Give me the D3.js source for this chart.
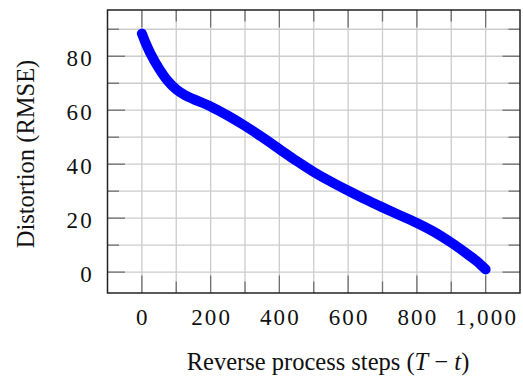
<!DOCTYPE html>
<html>
<head>
<meta charset="utf-8">
<script src="https://cdn.jsdelivr.net/npm/d3@7"></script>
<style>
  html, body { margin: 0; padding: 0; background: #fff; }
  svg { display: block; }
</style>
</head>
<body>
<svg id="chart" width="523" height="379"></svg>
<script>
// ---- data ----
const steps = [0, 10, 25, 50, 75, 100, 125, 150, 200, 250, 300, 350, 400, 450, 500, 550, 600, 650, 700, 750, 800, 850, 900, 950, 975, 1000];
const rmse  = [88.4, 85.2, 81.0, 75.4, 70.9, 67.7, 65.6, 64.1, 61.4, 58.0, 54.2, 50.0, 45.6, 41.2, 37.1, 33.5, 30.2, 27.0, 24.0, 21.1, 18.2, 14.9, 10.9, 6.4, 4.0, 1.0];
const xMajorTicks = [0, 200, 400, 600, 800, 1000];
const xMinorTicks = [100, 300, 500, 700, 900];
const yMajorTicks = [0, 20, 40, 60, 80];
const yMinorTicks = [10, 30, 50, 70, 90];
const xLabel = "Reverse process steps (";
const yLabel = "Distortion (RMSE)";

(function () {
// ---- layout ----
const pL = 107.5, pR = 520, pT = 10, pB = 293;
const svg = d3.select("#chart");

function enlarge(ext) { const r = ext[1] - ext[0]; return [ext[0] - 0.1 * r, ext[1] + 0.1 * r]; }
const x = d3.scaleLinear().domain(enlarge(d3.extent(steps))).range([pL, pR]);
const y = d3.scaleLinear().domain(enlarge(d3.extent(rmse))).range([pB, pT]);

const allX = xMajorTicks.concat(xMinorTicks);
const allY = yMajorTicks.concat(yMinorTicks);

// grid
const grid = svg.append("g").attr("stroke", "#cccccc").attr("stroke-width", 1.3);
grid.selectAll("line.gx").data(allX).join("line").attr("class", "gx")
  .attr("x1", d => x(d)).attr("x2", d => x(d)).attr("y1", pT).attr("y2", pB);
grid.selectAll("line.gy").data(allY).join("line").attr("class", "gy")
  .attr("y1", d => y(d)).attr("y2", d => y(d)).attr("x1", pL).attr("x2", pR);

// ticks (inward, all four sides)
const majorLen = 17.5, minorLen = 11.5;
const ticks = svg.append("g").attr("stroke", "#707070").attr("stroke-width", 1.3);
function tickLen(d, majors) { return majors.includes(d) ? majorLen : minorLen; }
allX.forEach(d => {
  const L = tickLen(d, xMajorTicks);
  ticks.append("line").attr("x1", x(d)).attr("x2", x(d)).attr("y1", pB).attr("y2", pB - L);
  ticks.append("line").attr("x1", x(d)).attr("x2", x(d)).attr("y1", pT).attr("y2", pT + L);
});
allY.forEach(d => {
  const L = tickLen(d, yMajorTicks);
  ticks.append("line").attr("y1", y(d)).attr("y2", y(d)).attr("x1", pL).attr("x2", pL + L);
  ticks.append("line").attr("y1", y(d)).attr("y2", y(d)).attr("x1", pR).attr("x2", pR - L);
});

// curve
const line = d3.line()
  .x((d, i) => x(steps[i]))
  .y(d => y(d))
  .curve(d3.curveCatmullRom.alpha(0.5));
svg.append("path")
  .datum(rmse)
  .attr("d", line)
  .attr("fill", "none")
  .attr("stroke", "#0000ff")
  .attr("stroke-width", 10)
  .attr("stroke-linecap", "round")
  .attr("stroke-linejoin", "round");

// frame
svg.append("rect")
  .attr("x", pL).attr("y", pT)
  .attr("width", pR - pL).attr("height", pB - pT)
  .attr("fill", "none").attr("stroke", "#222").attr("stroke-width", 1.5);

// tick labels
const fmt = d3.format(",");
const font = "'Liberation Serif', 'Times New Roman', serif";
svg.append("g").selectAll("text").data(xMajorTicks).join("text")
  .attr("x", d => x(d) + 1.1)
  .attr("y", 325)
  .attr("text-anchor", "middle")
  .attr("font-family", font)
  .attr("font-size", 23)
  .attr("letter-spacing", 2.2)
  .attr("fill", "#111")
  .text(d => fmt(d));

svg.append("g").selectAll("text").data(yMajorTicks).join("text")
  .attr("x", 94)
  .attr("y", d => y(d) + 10.2)
  .attr("text-anchor", "end")
  .attr("font-family", font)
  .attr("font-size", 23)
  .attr("letter-spacing", 2.2)
  .attr("fill", "#111")
  .text(d => fmt(d));

// axis labels
const xl = svg.append("text")
  .attr("x", 328)
  .attr("y", 370)
  .attr("text-anchor", "middle")
  .attr("font-family", font)
  .attr("font-size", 24.5)
  .attr("fill", "#111");
xl.append("tspan").text(xLabel);
xl.append("tspan").attr("font-style", "italic").text("T");
xl.append("tspan").text(" \u2212 ");
xl.append("tspan").attr("font-style", "italic").text("t");
xl.append("tspan").text(")");

svg.append("text")
  .attr("transform", "translate(34,154) rotate(-90)")
  .attr("text-anchor", "middle")
  .attr("font-family", font)
  .attr("font-size", 24.5)
  .attr("fill", "#111")
  .text(yLabel);
})();
</script>
</body>
</html>
